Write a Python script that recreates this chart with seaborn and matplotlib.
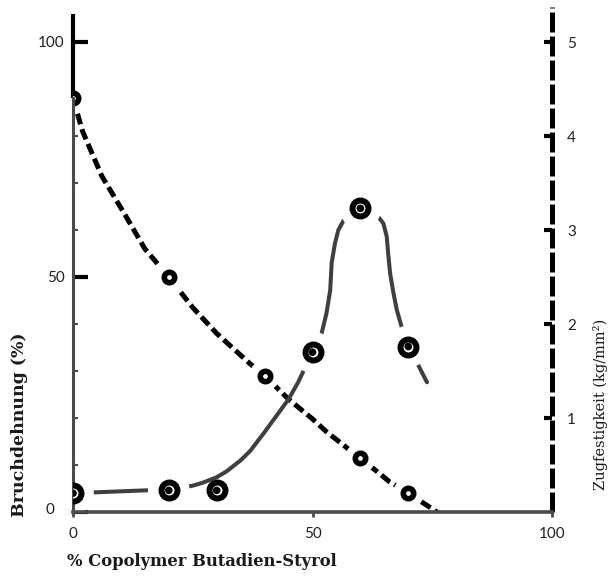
import matplotlib
matplotlib.use("Agg")
import matplotlib.pyplot as plt
import matplotlib.transforms as mtrans
import numpy as np
import pandas as pd
import seaborn as sns

# ---- data -------------------------------------------------------------
# Bruchdehnung (%) - left axis, dashed curve with open circles
dehnung_x = [0, 20, 40, 60, 70]
dehnung_y = [88, 50, 29, 11.5, 4]
dehnung_curve_x = [0, 2, 6, 11, 15, 20, 25, 30, 37, 40, 45, 50, 53, 58, 60, 63, 66, 70, 73, 76]
dehnung_curve_y = [88, 81, 71.5, 63, 56, 50, 43.5, 38, 31.5, 29, 24, 19.8, 17, 13, 11.5, 9, 6.5, 4, 2, 0]

# Zugfestigkeit (kg/mm2) - right axis, solid curve with bold circles
zug_x = [0, 20, 30, 50, 60, 70]
zug_y = [0.20, 0.23, 0.23, 1.70, 3.23, 1.76]
zug_on_curve = [True, True, False, True, True, True]
zug_curve_x = [0, 5, 10, 15, 20, 22, 25, 27, 30, 32, 35, 37, 40, 42, 45, 47, 50, 51.9, 52.9,
               53.7, 54.0, 54.7, 55.4, 56.8, 58.5, 60.3, 62.0, 63.4, 64.8, 65.5, 65.8, 66.2,
               66.9, 67.6, 68.6, 70, 72, 73.9]
zug_curve_y = [0.20, 0.21, 0.22, 0.23, 0.24, 0.25, 0.28, 0.31, 0.37, 0.43, 0.55, 0.65, 0.85,
               0.99, 1.20, 1.38, 1.70, 1.90, 2.11, 2.36, 2.65, 2.86, 3.00, 3.13, 3.21, 3.23,
               3.21, 3.16, 3.07, 2.93, 2.75, 2.54, 2.33, 2.15, 1.97, 1.76, 1.57, 1.38]

x_ticks = [0, 50, 100]
left_ticks = [0, 50, 100]
right_ticks = [1, 2, 3, 4, 5]

xlabel = "% Copolymer Butadien-Styrol"
ylabel_left = "Bruchdehnung (%)"
ylabel_right = "Zugfestigkeit (kg/mm\u00b2)"

# ---- style ------------------------------------------------------------
sns.set_theme(style="white")
plt.rcParams["font.family"] = ["Lato", "DejaVu Sans"]

W, H = 610, 579
fig = plt.figure(figsize=(W / 100, H / 100), dpi=100)
fig.patch.set_facecolor("white")
ax = fig.add_axes([73 / W, (H - 512) / H, (552 - 73) / W, (512 - 7) / H])
ax2 = ax.twinx()

left_top = (512 - 7) / 4.7
ax.set_xlim(0, 100)
ax.set_ylim(0, left_top)
ax2.set_ylim(0, left_top / 20)
ax.patch.set_visible(False)

axis_gray = "#4a4a4a"
curve_gray = "#3f3f3f"

# ---- dashed curve (left axis) ----------------------------------------
dfd = pd.DataFrame({"x": dehnung_curve_x, "y": dehnung_curve_y})
sns.lineplot(data=dfd, x="x", y="y", ax=ax, estimator=None, sort=False,
             color="black", linewidth=3.6, linestyle=(0, (2.2, 1.0)), zorder=2.1)
sns.scatterplot(x=dehnung_x, y=dehnung_y, ax=ax, s=22 ** 2, color="white",
                edgecolor="none", linewidth=0, zorder=2.2)
sns.scatterplot(x=dehnung_x, y=dehnung_y, ax=ax, s=7.5 ** 2, color="white",
                edgecolor="black", linewidth=4.0, zorder=3)

# ---- solid curve (right axis) ----------------------------------------
dfz = pd.DataFrame({"x": zug_curve_x, "y": zug_curve_y})
sns.lineplot(data=dfz, x="x", y="y", ax=ax2, estimator=None, sort=False,
             color=curve_gray, linewidth=2.9, zorder=2.1)
halo_x = [xx for xx, on in zip(zug_x, zug_on_curve) if on]
halo_y = [yy for yy, on in zip(zug_y, zug_on_curve) if on]
sns.scatterplot(x=halo_x, y=halo_y, ax=ax2, s=30 ** 2, color="white",
                edgecolor="none", linewidth=0, zorder=2.2)
sns.scatterplot(x=zug_x, y=zug_y, ax=ax2, s=11.5 ** 2, color="white",
                edgecolor="black", linewidth=4.3, zorder=3)
sns.scatterplot(x=zug_x, y=zug_y, ax=ax2, s=5.5 ** 2, color="black",
                edgecolor="none", linewidth=0, zorder=3.1)

# ---- spines -----------------------------------------------------------
for s in ["left", "bottom", "right", "top"]:
    ax.spines[s].set_visible(False)
ax2.spines["top"].set_visible(False)
ax2.spines["left"].set_visible(True)
ax2.spines["left"].set_color(axis_gray)
ax2.spines["left"].set_linewidth(2.2)
ax2.spines["left"].set_bounds(0, dehnung_y[0] / 20)
ax2.spines["bottom"].set_visible(True)
ax2.spines["bottom"].set_color(axis_gray)
ax2.spines["bottom"].set_linewidth(2.6)
ax2.spines["right"].set_color("black")
ax2.spines["right"].set_linewidth(3.6)
ax2.spines["right"].set_linestyle((0, (4.0, 0.8)))
ax2.spines["right"].set_capstyle("butt")

# black upper part of the left axis
ax.plot([0, 0], [dehnung_y[0], 106], color="black", linewidth=3.0,
        solid_capstyle="butt", clip_on=False, zorder=2.6)

# ---- ticks ------------------------------------------------------------
ax.set_xticks(x_ticks)
ax.set_xticklabels([str(t) for t in x_ticks])
ax.tick_params(axis="x", direction="out", length=3.6, width=2.0, color=axis_gray,
               pad=7, labelsize=11, labelcolor="#222222", bottom=True)

ax.set_yticks(left_ticks)
ax.set_yticklabels([str(t) for t in left_ticks])
ax.set_yticks([10, 20, 30, 40, 60, 70, 80, 90], minor=True)
ax.tick_params(axis="y", which="major", direction="in", length=11, width=3.0,
               color="black", pad=6, labelsize=11, labelcolor="#222222", left=True)
ax.tick_params(axis="y", which="minor", direction="in", length=3.5, width=1.5,
               color=axis_gray, left=True)

ax2.set_yticks(right_ticks)
ax2.set_yticklabels([str(t) for t in right_ticks])
ax2.tick_params(axis="y", direction="in", length=6, width=3.0, color="black",
                pad=11, labelsize=11, labelcolor="#222222", right=True)

# nudge the left "0" label like in the original
lbl0 = ax.get_yticklabels()[0]
lbl0.set_transform(lbl0.get_transform() +
                   mtrans.ScaledTranslation(-0.10, 0.04, fig.dpi_scale_trans))

ax.set_xlabel("")
ax.set_ylabel("")
ax2.set_ylabel("")

# ---- axis titles ------------------------------------------------------
fig.text(202 / W, 1 - 562 / H, xlabel, ha="center", va="center",
         family=["DejaVu Serif"], fontweight="bold", fontsize=11.8, color="#1a1a1a")
fig.text(20 / W, 1 - 425 / H, ylabel_left, ha="center", va="center", rotation=90,
         family=["DejaVu Serif"], fontweight="bold", fontsize=12.5, color="#1a1a1a")
fig.text(601 / W, 1 - 404 / H, ylabel_right, ha="center", va="center", rotation=90,
         family=["DejaVu Serif"], fontsize=10.5, color="#1a1a1a")

fig.savefig("out.png", dpi=100, facecolor="white")
